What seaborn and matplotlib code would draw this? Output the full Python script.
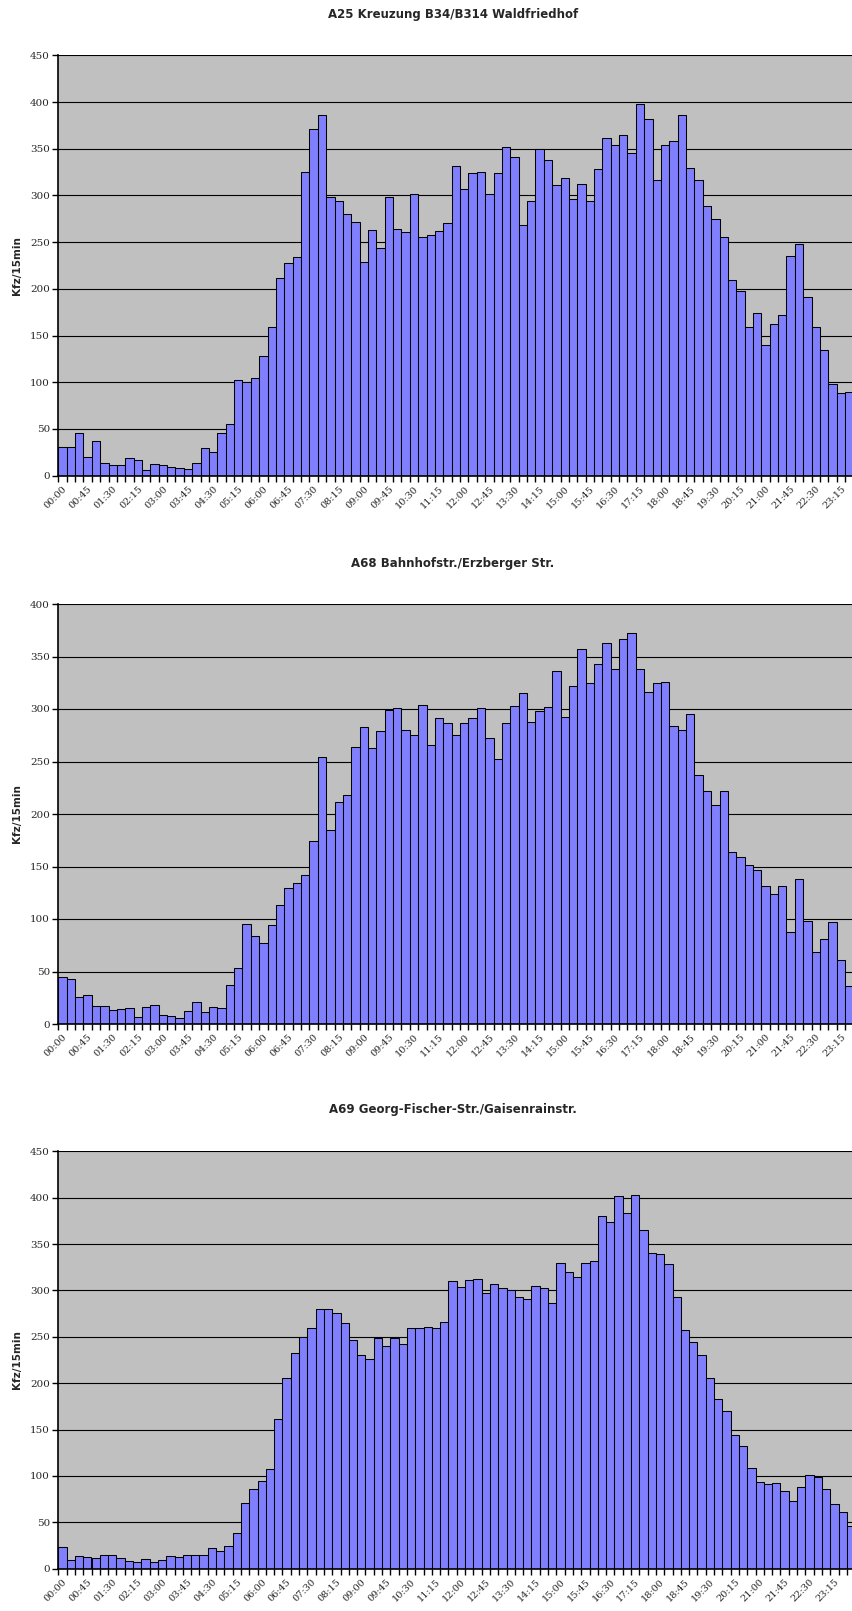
import matplotlib
matplotlib.use('Agg')
import matplotlib.pyplot as plt
import seaborn as sns
import numpy as np

# time slots, 15 min each
times = [f"{h:02d}:{m:02d}" for h in range(24) for m in (0, 15, 30, 45)]

titles = [
    "A25 Kreuzung B34/B314 Waldfriedhof",
    "A68 Bahnhofstr./Erzberger Str.",
    "A69 Georg-Fischer-Str./Gaisenrainstr.",
]

# values (last slot cut off in the first two charts)
a25 = [31, 31, 46, 20, 37, 14, 11, 11, 19, 17, 6, 13, 11, 9, 8, 7, 14, 30, 25, 46,
       55, 102, 100, 105, 128, 159, 212, 228, 234, 325, 371, 386, 298, 294, 280, 272,
       229, 263, 244, 298, 264, 261, 302, 255, 258, 262, 271, 331, 307, 324, 325, 302,
       324, 352, 341, 268, 294, 350, 338, 311, 319, 296, 312, 294, 328, 361, 354, 365,
       345, 398, 382, 316, 354, 358, 386, 329, 317, 289, 275, 256, 209, 198, 159, 174,
       140, 162, 172, 235, 248, 191, 159, 135, 98, 88, 90]
a68 = [45, 43, 26, 28, 17, 17, 13, 14, 15, 7, 16, 18, 9, 8, 6, 12, 21, 11, 16, 15,
       37, 53, 95, 84, 77, 94, 113, 130, 134, 142, 174, 254, 185, 211, 218, 264, 283,
       263, 279, 299, 301, 280, 275, 304, 266, 291, 287, 275, 287, 291, 301, 272, 252,
       287, 303, 315, 288, 298, 302, 336, 292, 322, 357, 325, 343, 363, 338, 367, 372,
       338, 316, 325, 326, 284, 280, 295, 237, 222, 209, 222, 164, 159, 151, 147, 131,
       124, 131, 88, 138, 98, 69, 81, 97, 61, 36]
a69 = [23, 9, 14, 13, 12, 15, 15, 12, 8, 7, 10, 7, 9, 14, 13, 15, 15, 15, 22, 19,
       25, 39, 71, 86, 95, 107, 161, 206, 233, 250, 260, 280, 280, 276, 265, 247, 230,
       226, 249, 240, 249, 242, 260, 259, 261, 260, 266, 310, 304, 311, 312, 297, 307,
       303, 300, 293, 291, 305, 303, 286, 330, 320, 314, 330, 332, 380, 374, 402, 384,
       403, 365, 340, 339, 328, 293, 257, 244, 230, 206, 183, 170, 144, 132, 109, 94,
       91, 92, 84, 73, 88, 101, 99, 86, 70, 61, 46]

series = [a25, a68, a69]
ymax = [450, 400, 450]

sns.set_style("white")
plt.rcParams['font.family'] = ['DejaVu Sans']

fig = plt.figure(figsize=(8.52, 16.11), dpi=100)

# axes boxes in pixels: left, top, bottom, slot width
boxes = [(58.3, 55.3, 475.7, 8.37), (58.3, 604.0, 1024.0, 8.37), (58.3, 1151.3, 1568.7, 8.30)]
title_y = [14.4, 563.0, 1110.0]
W, H = 852.0, 1611.0

for vals, title, top, box, ty in zip(series, titles, ymax, boxes, title_y):
    left, ytop, ybot, slot = box
    ax = fig.add_axes([left / W, 1 - ybot / H, 96 * slot / W, (ybot - ytop) / H])
    ax.set_facecolor('#C0C0C0')
    sns.barplot(x=times[:len(vals)], y=vals, order=times, color='#8080FF',
                saturation=1, width=1.0, edgecolor='black', linewidth=0.75, ax=ax)
    ax.set_xlim(-0.5, 95.5)
    ax.set_ylim(0, top)
    ax.set_yticks(np.arange(0, top + 1, 50))
    ax.yaxis.grid(True, color='black', linewidth=0.8)
    ax.set_axisbelow(True)
    for s in ['top', 'right']:
        ax.spines[s].set_visible(False)
    for s in ['left', 'bottom']:
        ax.spines[s].set_color('black')
        ax.spines[s].set_linewidth(1.2)

    ax.set_xticks(range(0, 96, 3))
    ax.set_xticklabels(times[::3], rotation=45, ha='right', rotation_mode='anchor',
                       fontsize=7, family='DejaVu Serif')
    ax.set_xticks(np.arange(-0.5, 96, 1), minor=True)
    ax.tick_params(axis='x', which='major', length=0, pad=6)
    ax.tick_params(axis='x', which='minor', length=4, width=1, color='black', bottom=True)
    ax.tick_params(axis='y', length=4, width=1, color='black', left=True, pad=2)
    for lbl in ax.get_yticklabels():
        lbl.set_family('DejaVu Serif')
        lbl.set_fontsize(7.5)

    ax.set_xlabel('')
    ax.set_ylabel('')
    fig.text(17.5 / W, 1 - (ytop + ybot) / 2 / H, 'Kfz/15min', rotation=90,
             ha='center', va='center', fontsize=7.5, fontweight='bold')
    fig.text(453 / W, 1 - ty / H, title, ha='center', va='center',
             fontsize=8.5, fontweight='bold')

fig.savefig('out.png', dpi=100)
